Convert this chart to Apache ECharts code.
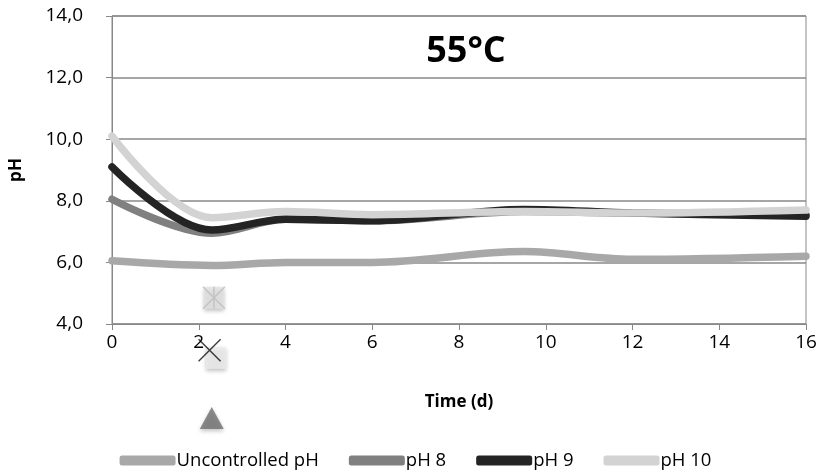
<!DOCTYPE html>
<html>
<head>
<meta charset="utf-8">
<script src="https://cdn.jsdelivr.net/npm/echarts@6/dist/echarts.min.js"></script>
<style>
  html, body { margin: 0; padding: 0; background: #fff; }
  #chart { width: 831px; height: 476px; }
</style>
</head>
<body>
<div id="chart"></div>
<script>
// sampling days
const days = [0, 2.3, 4, 6, 9.5, 12, 16];

// pH readings per condition
const uncontrolled = [6.05, 5.9, 6.0, 6.0, 6.35, 6.1, 6.2];
const ph8 = [8.05, 6.95, 7.4, 7.35, 7.65, 7.6, 7.55];
const ph9 = [9.1, 7.05, 7.4, 7.35, 7.72, 7.6, 7.5];
const ph10 = [10.1, 7.45, 7.65, 7.55, 7.65, 7.6, 7.7];

const seriesNames = ['Uncontrolled pH', 'pH 8', 'pH 9', 'pH 10'];
const seriesValues = [uncontrolled, ph8, ph9, ph10];
const seriesColors = ['#a8a8a8', '#808080', '#242424', '#d3d3d3'];

// stray marker glyphs left over near day 2 in the source figure
const strayMarks = [
  { day: 2.35, value: 4.85, symbol: 'rect', color: '#e2e2e2' },
  { day: 2.4, value: 2.9, symbol: 'rect', color: '#ececec' },
  { day: 2.3, value: 0.95, symbol: 'triangle', color: '#6f6f6f' }
];
const strayCrosses = [
  { day: 2.35, value: 4.85, color: '#bdbdbd', path: 'path://M0,0L10,10M10,0L0,10M5,0L5,10' },
  { day: 2.25, value: 3.15, color: '#111111', path: 'path://M0,0L10,10M10,0L0,10' }
];

const font = '"Open Sans", "Noto Sans", sans-serif';

const chart = echarts.init(document.getElementById('chart'));

const lineSeries = seriesNames.map((name, i) => ({
  name: name,
  type: 'line',
  smooth: 0.35,
  showSymbol: false,
  data: days.map((d, j) => [d, seriesValues[i][j]]),
  lineStyle: { width: 7.5, color: seriesColors[i], cap: 'round' },
  itemStyle: { color: seriesColors[i] },
  z: 2 + i
}));

chart.setOption({
  animation: false,
  textStyle: { fontFamily: font },
  title: {
    text: '55°C',
    left: 461,
    top: 29,
    textAlign: 'center',
    textStyle: { fontSize: 36, fontWeight: 'bold', color: '#000', fontFamily: font }
  },
  legend: {
    bottom: 1,
    left: 'center',
    itemWidth: 56,
    itemHeight: 10,
    itemGap: 30,
    icon: 'roundRect',
    textStyle: { fontSize: 18.5, color: '#000', fontFamily: font, padding: [0, 0, 0, -4] },
    data: seriesNames
  },
  grid: {
    left: 108,
    right: 25,
    top: 16,
    bottom: 152,
    show: true,
    borderColor: '#888',
    borderWidth: 1
  },
  xAxis: {
    type: 'value',
    min: 0,
    max: 16,
    interval: 2,
    name: 'Time (d)',
    nameLocation: 'middle',
    nameGap: 70,
    nameTextStyle: { fontSize: 17, fontWeight: 'bold', color: '#000' },
    axisLine: { lineStyle: { color: '#888' } },
    axisTick: { show: true, length: 6, lineStyle: { color: '#888' } },
    axisLabel: { fontSize: 19, color: '#000', margin: 9 },
    splitLine: { show: false }
  },
  yAxis: {
    type: 'value',
    min: 4,
    max: 14,
    interval: 2,
    name: 'pH',
    nameLocation: 'middle',
    nameGap: 87,
    nameTextStyle: { fontSize: 17, fontWeight: 'bold', color: '#000' },
    axisLine: { show: true, lineStyle: { color: '#888' } },
    axisTick: { show: true, length: 6, lineStyle: { color: '#888' } },
    axisLabel: {
      fontSize: 19,
      color: '#000',
      margin: 29,
      formatter: v => v.toFixed(1).replace('.', ',')
    },
    splitLine: { show: true, lineStyle: { color: '#888', width: 1.5 } }
  },
  series: lineSeries.concat([{
    type: 'scatter',
    silent: true,
    clip: false,
    z: 10,
    data: strayMarks.map(m => ({
      value: [m.day, m.value],
      symbol: m.symbol,
      symbolSize: m.symbol === 'triangle' ? [24, 22] : [20, 22],
      itemStyle: { color: m.color, shadowBlur: 4, shadowColor: 'rgba(0,0,0,0.3)', shadowOffsetY: 2 }
    }))
  }, {
    type: 'scatter',
    silent: true,
    clip: false,
    z: 11,
    data: strayCrosses.map(m => ({
      value: [m.day, m.value],
      symbol: m.path,
      symbolSize: [22, 22],
      itemStyle: { color: 'none', borderColor: m.color, borderWidth: 1.5 }
    }))
  }])
});
</script>
</body>
</html>
